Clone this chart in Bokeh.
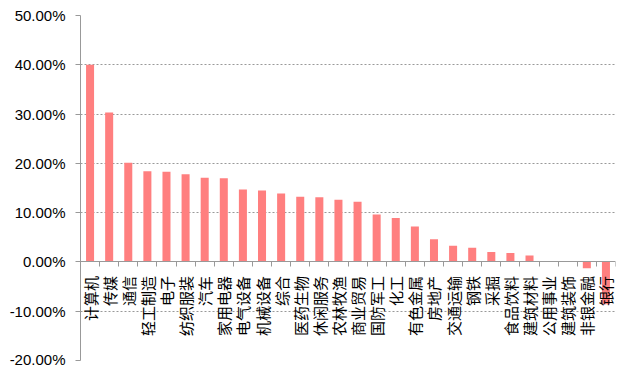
import math
from bokeh.plotting import figure
from bokeh.models import (ColumnDataSource, FixedTicker, PrintfTickFormatter, Range1d,
                          LinearAxis)
from bokeh.embed import file_html
from bokeh.resources import INLINE

industries = ["计算机", "传媒", "通信", "轻工制造", "电子", "纺织服装", "汽车", "家用电器",
              "电气设备", "机械设备", "综合", "医药生物", "休闲服务", "农林牧渔", "商业贸易",
              "国防军工", "化工", "有色金属", "房地产", "交通运输", "钢铁", "采掘", "食品饮料",
              "建筑材料", "公用事业", "建筑装饰", "非银金融", "银行"]
returns = [40.0, 30.3, 20.1, 18.4, 18.3, 17.8, 17.1, 17.0,
           14.7, 14.5, 13.9, 13.2, 13.1, 12.6, 12.2,
           9.6, 8.9, 7.2, 4.6, 3.3, 2.9, 2.0, 1.8,
           1.3, 0.2, 0.0, -1.3, -8.6]
y_ticks = [-20, -10, 0, 10, 20, 30, 40, 50]

n = len(industries)
pos = list(range(n))
src = ColumnDataSource(dict(x=pos, y=returns, name=industries))

p = figure(x_range=Range1d(-0.5, n - 0.5), y_range=Range1d(-20, 50),
           frame_width=535, frame_height=345, output_backend="svg", toolbar_location=None,
           x_axis_location=None,
           min_border_left=80, min_border_right=6, min_border_top=15, min_border_bottom=7)
p.outline_line_color = None
p.background_fill_color = "white"

p.vbar(x="x", top="y", bottom=0, width=0.42, source=src, color="#FF7F7F", line_color=None)

# y axis
p.yaxis.ticker = FixedTicker(ticks=y_ticks)
p.yaxis.formatter = PrintfTickFormatter(format="%.2f%%")
p.yaxis.major_label_text_font = "Liberation Sans"
p.yaxis.major_label_text_font_size = "15px"
p.yaxis.major_label_text_color = "black"
p.yaxis.axis_line_color = "#999999"
p.yaxis.major_tick_line_color = "#999999"
p.yaxis.major_tick_in = 0
p.yaxis.major_tick_out = 5
p.yaxis.minor_tick_line_color = None
p.yaxis.major_label_standoff = 10

# grid
p.ygrid.ticker = FixedTicker(ticks=y_ticks)
p.ygrid.grid_line_color = "#999999"
p.ygrid.grid_line_dash = "2 2"
p.xgrid.grid_line_color = None

# boundary ticks along the zero line
bticks = [i - 0.5 for i in range(n + 1)]
bax = LinearAxis(ticker=FixedTicker(ticks=bticks),
                 fixed_location=0,
                 major_label_overrides={t: "" for t in bticks},
                 axis_line_color="#999999", major_tick_line_color="#999999",
                 major_tick_in=0, major_tick_out=5, minor_tick_line_color=None)
p.add_layout(bax, "below")

# category labels at zero
lax = LinearAxis(ticker=FixedTicker(ticks=pos), fixed_location=0,
                 major_label_overrides={i: name for i, name in zip(pos, industries)},
                 major_label_orientation=math.pi / 2,
                 major_label_text_font="Noto Sans CJK SC",
                 major_label_text_font_size="15px",
                 major_label_text_color="black",
                 major_label_standoff=8,
                 axis_line_color=None, major_tick_line_color=None,
                 minor_tick_line_color=None)
p.add_layout(lax, "below")

open("out.html", "w").write(file_html(p, INLINE))
